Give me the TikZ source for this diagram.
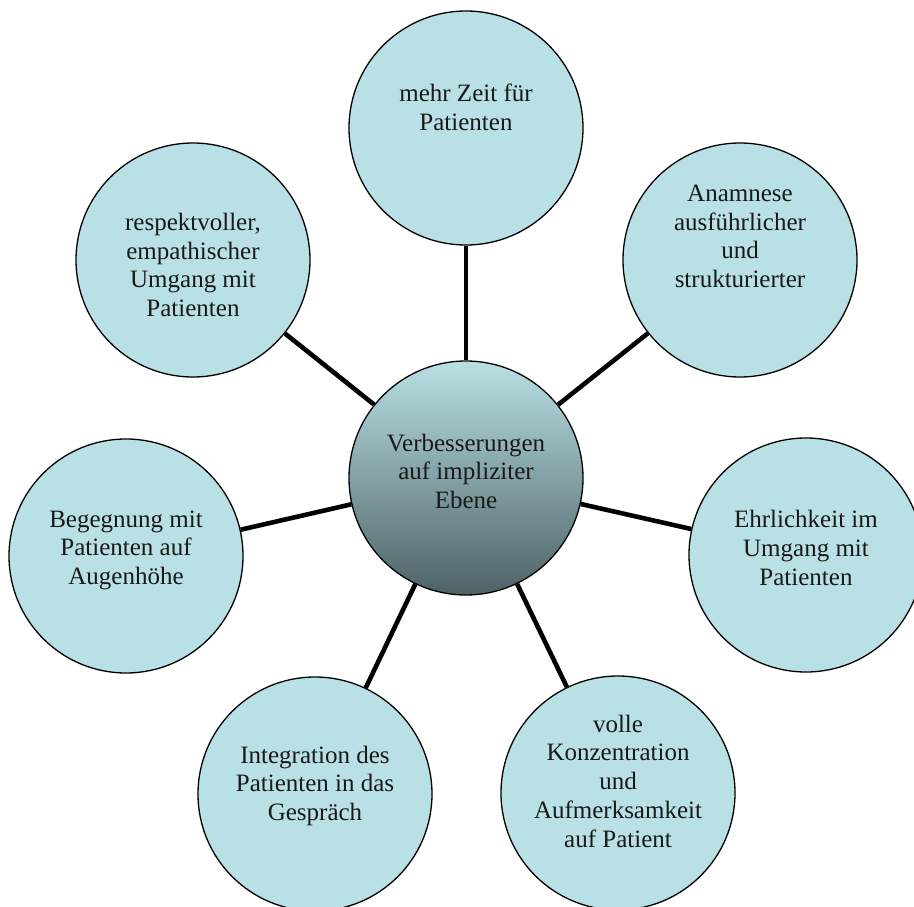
\documentclass[tikz,border=0pt]{standalone}
\usepackage{fontspec}
\setmainfont{Liberation Serif}
\definecolor{bubble}{RGB}{185,224,228}
\definecolor{hubdark}{RGB}{78,98,102}
\tikzset{
  bubble/.style={circle, draw=black, line width=1.3pt, fill=bubble, minimum size=234pt, inner sep=0pt},
  hub/.style={circle, draw=black, line width=1.3pt, top color=bubble, bottom color=hubdark, minimum size=234pt, inner sep=0pt},
  label/.style={anchor=base, align=center, inner sep=0pt, font=\fontsize{25}{28.75}\selectfont, text=black!90},
  spoke/.style={line width=4.6pt, black}
}
\begin{document}
\begin{tikzpicture}[x=1pt,y=-1pt]
\clip (0,0) rectangle (914,907);
\fill[white] (0,0) rectangle (914,907);
% circles
\node[hub]    (c)  at (466,478) {};
\node[bubble] (n1) at (466,128) {};
\node[bubble] (n2) at (740,260) {};
\node[bubble] (n3) at (806,555) {};
\node[bubble] (n4) at (618,793) {};
\node[bubble] (n5) at (315,794) {};
\node[bubble] (n6) at (126,556) {};
\node[bubble] (n7) at (193,260) {};
% connectors
\foreach \n in {n1,n2,n3,n4,n5,n6,n7} \draw[spoke] (c) -- (\n);
% texts (anchored at the baseline of the last line)
\node[label] (tc) at (466,508.5) {Verbesserungen\\auf impliziter\\Ebene};
\node[label] (t1) at (466,130.75) {mehr Zeit für\\Patienten};
\node[label] (t2) at (740,287.5) {Anamnese\\ausführlicher\\und\\strukturierter};
\node[label] (t3) at (806,585) {Ehrlichkeit im\\Umgang mit\\Patienten};
\node[label] (t4) at (618,847) {volle\\Konzentration\\und\\Aufmerksamkeit\\auf Patient};
\node[label] (t5) at (315,820.5) {Integration des\\Patienten in das\\Gespräch};
\node[label] (t6) at (126,584.5) {Begegnung mit\\Patienten auf\\Augenhöhe};
\node[label] (t7) at (193,316.5) {respektvoller,\\empathischer\\Umgang mit\\Patienten};
\end{tikzpicture}
\end{document}
